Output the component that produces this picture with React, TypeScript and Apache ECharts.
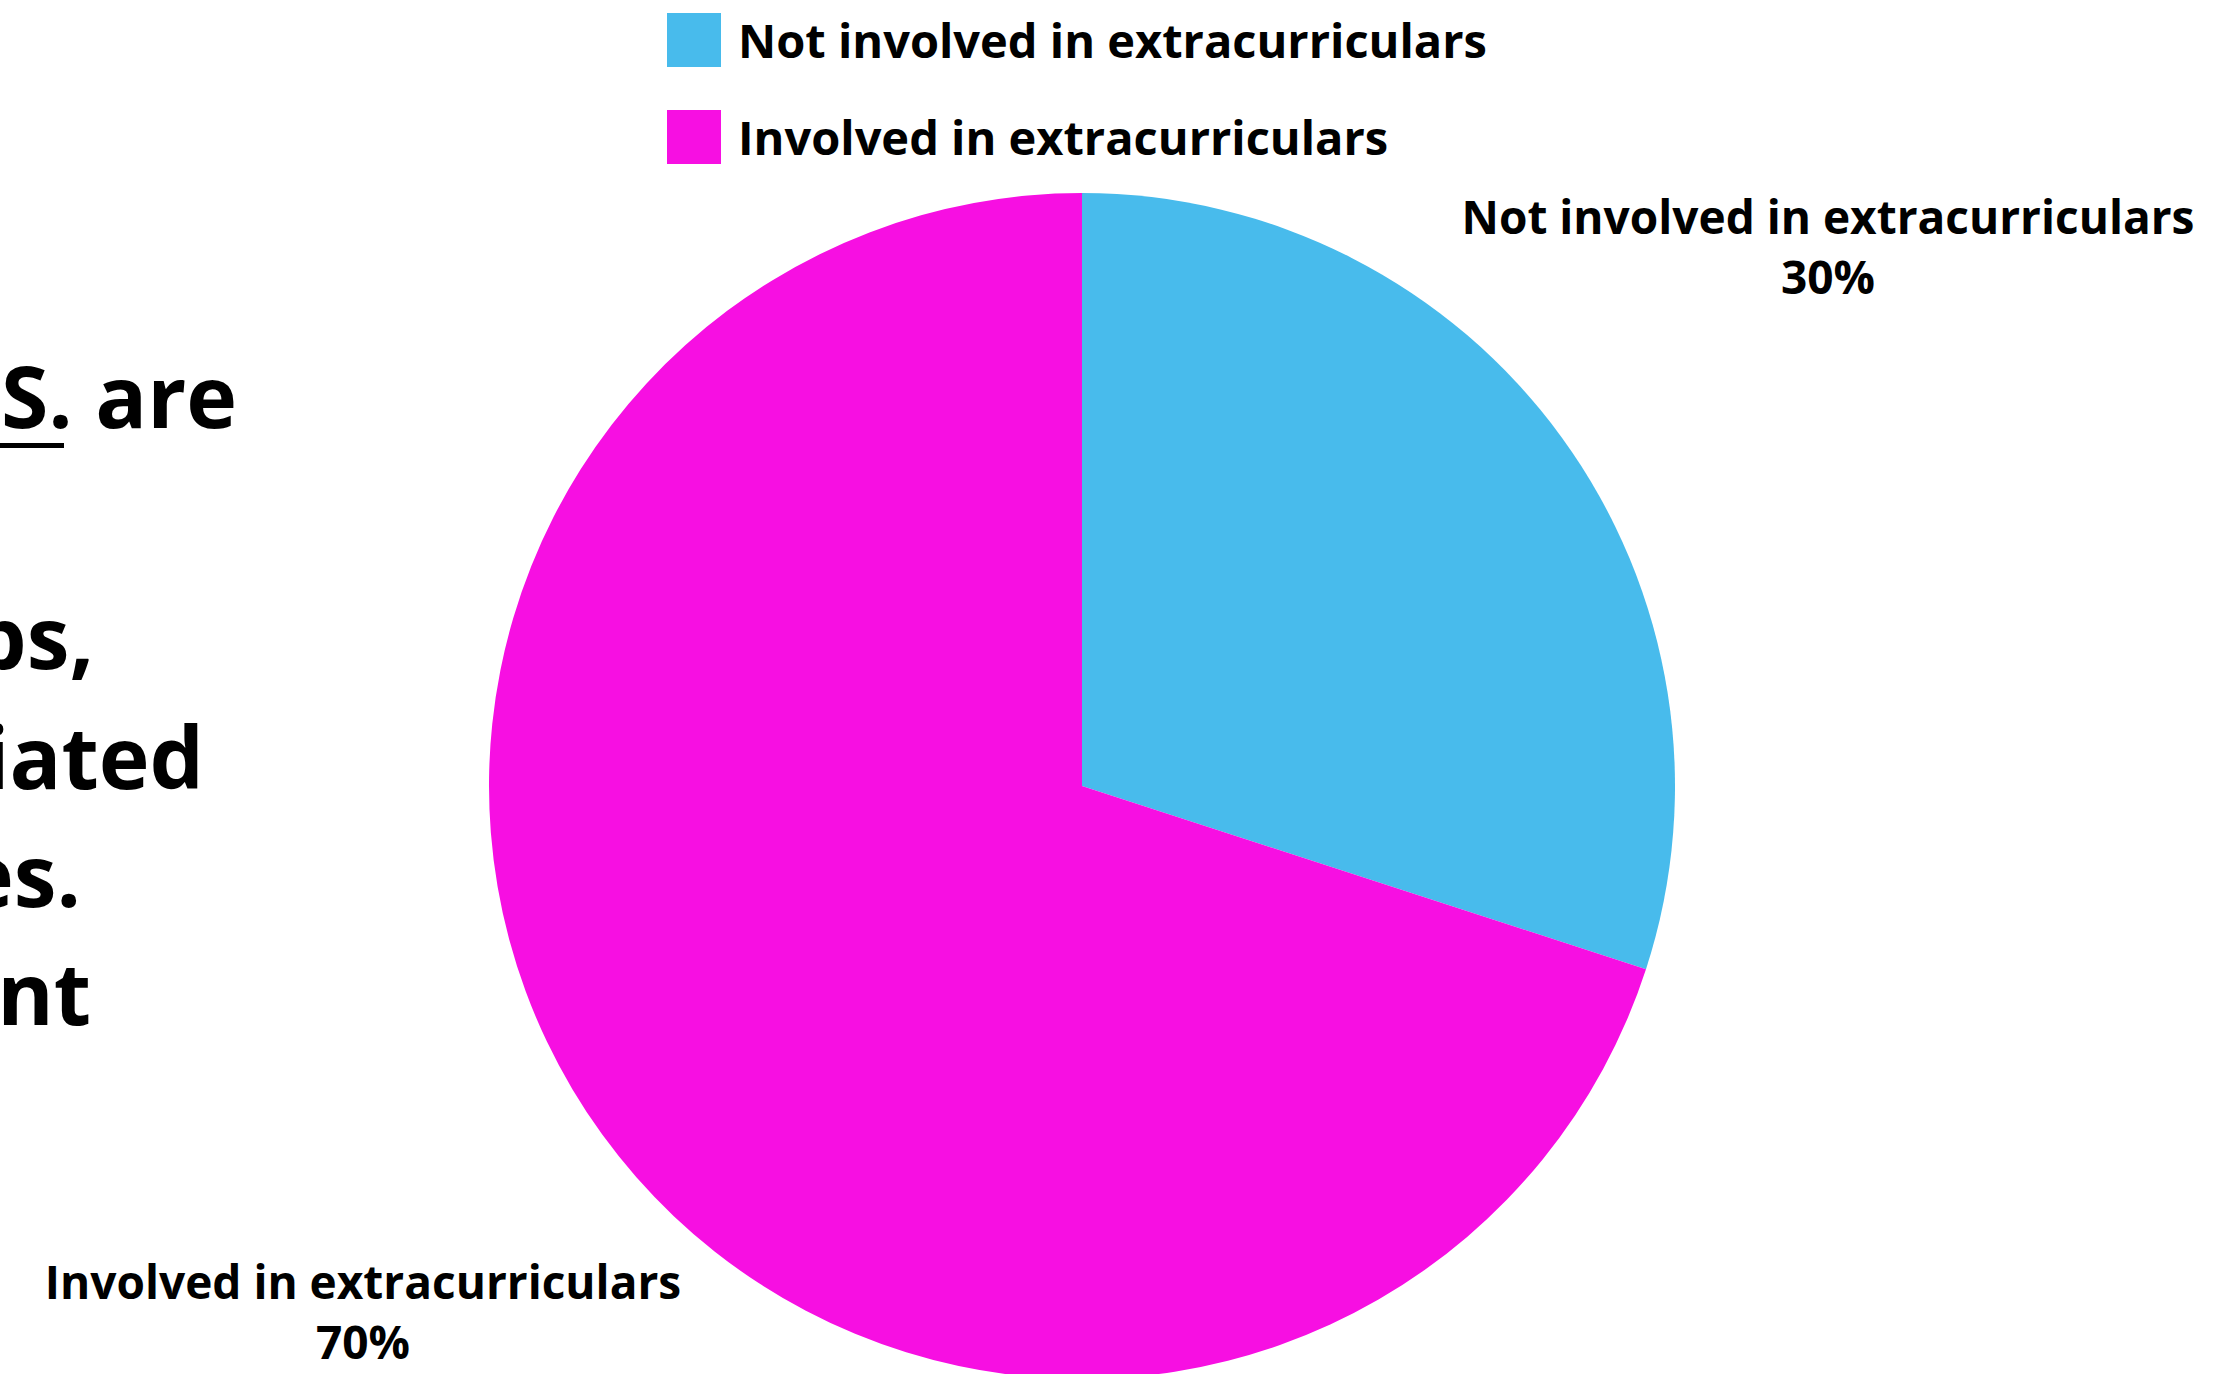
import React, { useEffect, useRef } from "react";
import * as echarts from "echarts";

const categories = ["Not involved in extracurriculars", "Involved in extracurriculars"];
const values = [30, 70];
const colors = ["#48BBEC", "#F70FE2"];
const sideTextLines = [".S. are", "ps,", "iated", "es.", "ent"];

const FONT = "'Open Sans', 'Noto Sans', sans-serif";

export default function App() {
  const ref = useRef<HTMLDivElement>(null);
  useEffect(() => {
    if (!ref.current) return;
    const chart = echarts.init(ref.current, null, { renderer: "svg" });
    const labelPos = [
      { x: 1828, y: 246 },
      { x: 363, y: 1311 },
    ];
    const sideX = [237, 94, 204, 81, 91];
    const sideY = [437, 678, 798, 916, 1034];
    chart.setOption({
      animation: false,
      backgroundColor: "#ffffff",
      legend: {
        orient: "vertical",
        left: 662,
        top: 8,
        itemWidth: 54,
        itemHeight: 54,
        itemGap: 43,
        icon: "rect",
        data: categories,
        textStyle: {
          fontFamily: FONT,
          fontWeight: "bold",
          fontSize: 47,
          color: "#000",
          padding: [0, 0, 0, 12],
        },
      },
      graphic: [
        ...sideTextLines.map((t, i) => ({
          type: "text",
          x: sideX[i],
          y: sideY[i],
          style: {
            text: t,
            fill: "#000",
            font: `bold 86px ${FONT}`,
            textAlign: "right",
            textVerticalAlign: "bottom",
          },
        })),
        {
          type: "rect",
          shape: { x: 0, y: 443, width: 64, height: 5 },
          style: { fill: "#000" },
        },
      ],
      series: [
        {
          type: "pie",
          center: [1082, 786],
          radius: 593,
          startAngle: 90,
          clockwise: true,
          color: colors,
          data: categories.map((c, i) => ({ name: c, value: values[i] })),
          label: {
            show: true,
            formatter: "{b}\n{d}%",
            fontFamily: FONT,
            fontWeight: "bold",
            fontSize: 46,
            lineHeight: 60,
            color: "#000",
            align: "center",
            overflow: "none",
            width: 900,
          },
          labelLine: { show: false },
          labelLayout: (p: any) => ({
            x: labelPos[p.dataIndex].x,
            y: labelPos[p.dataIndex].y,
            align: "center",
            verticalAlign: "middle",
          }),
          emphasis: { disabled: true },
        },
      ],
    });
    return () => chart.dispose();
  }, []);
  return (
    <div
      ref={ref}
      style={{ position: "fixed", left: 0, top: 0, width: 2224, height: 1374 }}
    />
  );
}
